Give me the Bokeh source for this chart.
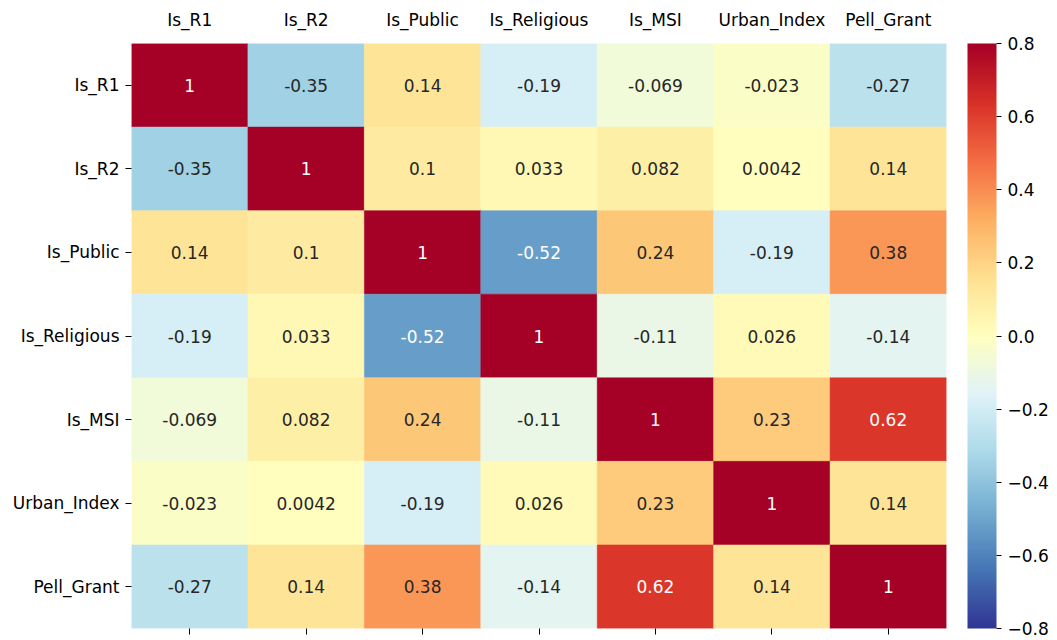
import numpy as np
from bokeh.plotting import figure
from bokeh.models import (ColumnDataSource, FactorRange, CategoricalAxis, ColorBar,
                          LinearColorMapper, FixedTicker, CustomJSTickFormatter)
from bokeh.core.properties import value
from bokeh.embed import file_html
from bokeh.resources import INLINE

variables = ["Is_R1", "Is_R2", "Is_Public", "Is_Religious", "Is_MSI", "Urban_Index", "Pell_Grant"]
row_is_r1 = [1, -0.35, 0.14, -0.19, -0.069, -0.023, -0.27]
row_is_r2 = [-0.35, 1, 0.1, 0.033, 0.082, 0.0042, 0.14]
row_is_public = [0.14, 0.1, 1, -0.52, 0.24, -0.19, 0.38]
row_is_religious = [-0.19, 0.033, -0.52, 1, -0.11, 0.026, -0.14]
row_is_msi = [-0.069, 0.082, 0.24, -0.11, 1, 0.23, 0.62]
row_urban_index = [-0.023, 0.0042, -0.19, 0.026, 0.23, 1, 0.14]
row_pell_grant = [-0.27, 0.14, 0.38, -0.14, 0.62, 0.14, 1]
rows = [row_is_r1, row_is_r2, row_is_public, row_is_religious, row_is_msi, row_urban_index, row_pell_grant]
colorbar_ticks = [-0.8, -0.6, -0.4, -0.2, 0.0, 0.2, 0.4, 0.6, 0.8]
vmin, vmax = -0.8, 0.8

# RdYlBu (reversed) colormap, interpolated to 256 steps
brewer = ['#313695', '#4575b4', '#74add1', '#abd9e9', '#e0f3f8', '#ffffbf',
          '#fee090', '#fdae61', '#f46d43', '#d73027', '#a50026']
anchors = np.array([[int(c[i:i + 2], 16) for i in (1, 3, 5)] for c in brewer], dtype=float)
pos = np.linspace(0, 1, len(brewer))
t = np.linspace(0, 1, 256)
palette = []
for ti in t:
    rgb = [np.interp(ti, pos, anchors[:, k]) for k in range(3)]
    palette.append('#%02x%02x%02x' % tuple(int(round(v)) for v in rgb))


def color_for(v):
    f = (min(max(v, vmin), vmax) - vmin) / (vmax - vmin)
    return palette[min(int(f * 256), 255)]


def lum(hexc):
    c = [int(hexc[i:i + 2], 16) / 255 for i in (1, 3, 5)]
    c = [x / 12.92 if x <= 0.03928 else ((x + 0.055) / 1.055) ** 2.4 for x in c]
    return 0.2126 * c[0] + 0.7152 * c[1] + 0.0722 * c[2]


xs, ys, vals, cols, labels, tcols = [], [], [], [], [], []
for rname, row in zip(variables, rows):
    for cname, v in zip(variables, row):
        xs.append(cname)
        ys.append(rname)
        vals.append(v)
        c = color_for(v)
        cols.append(c)
        labels.append(format(v, ".2g"))
        tcols.append("#262626" if lum(c) > 0.408 else "#ffffff")

src = ColumnDataSource(dict(x=xs, y=ys, v=vals, c=cols, label=labels, tc=tcols))

FONT = "DejaVu Sans"
p = figure(width=1057, height=640, output_backend="svg", toolbar_location=None,
           x_range=FactorRange(factors=variables),
           y_range=FactorRange(factors=list(reversed(variables))),
           x_axis_location="below", min_border_left=131, min_border_top=43,
           min_border_bottom=12, min_border_right=111)
p.rect(x="x", y="y", width=1, height=1, source=src, fill_color="c", line_color="c", line_width=0.5)
p.text(x="x", y="y", text="label", source=src, text_align="center", text_baseline="middle",
       text_font=value(FONT), text_font_size="17px", text_color="tc")

p.grid.visible = False
p.outline_line_color = None

for ax in p.xaxis:
    ax.major_label_text_font_size = "0px"
    ax.major_label_text_color = None
    ax.major_tick_out = 6
    ax.major_tick_in = 0
    ax.axis_line_color = None
    ax.major_tick_line_color = "#000000"

top = CategoricalAxis(major_tick_line_color=None, axis_line_color=None,
                      major_label_text_font=FONT, major_label_text_font_size="17px",
                      major_label_text_color="#000000", major_label_standoff=14,
                      major_tick_out=0, major_tick_in=0)
p.add_layout(top, "above")

yax = p.yaxis[0]
yax.major_label_text_font = FONT
yax.major_label_text_font_size = "17px"
yax.major_label_text_color = "#000000"
yax.major_tick_out = 6
yax.major_tick_in = 0
yax.axis_line_color = None
yax.major_label_standoff = 6

mapper = LinearColorMapper(palette=palette, low=vmin, high=vmax)
cb = ColorBar(color_mapper=mapper, width=29, height=585, padding=0, margin=0,
              ticker=FixedTicker(ticks=colorbar_ticks),
              formatter=CustomJSTickFormatter(code="return tick.toFixed(1).replace('-', '\u2212');"),
              major_label_text_font=FONT, major_label_text_font_size="17px",
              major_label_text_color="#000000", major_tick_out=5, major_tick_in=0,
              major_tick_line_color="#000000", bar_line_color=None,
              label_standoff=6, background_fill_color=None, border_line_color=None,
              location=(21, 0))
p.add_layout(cb, "right")

open("out.html", "w").write(file_html(p, INLINE))
